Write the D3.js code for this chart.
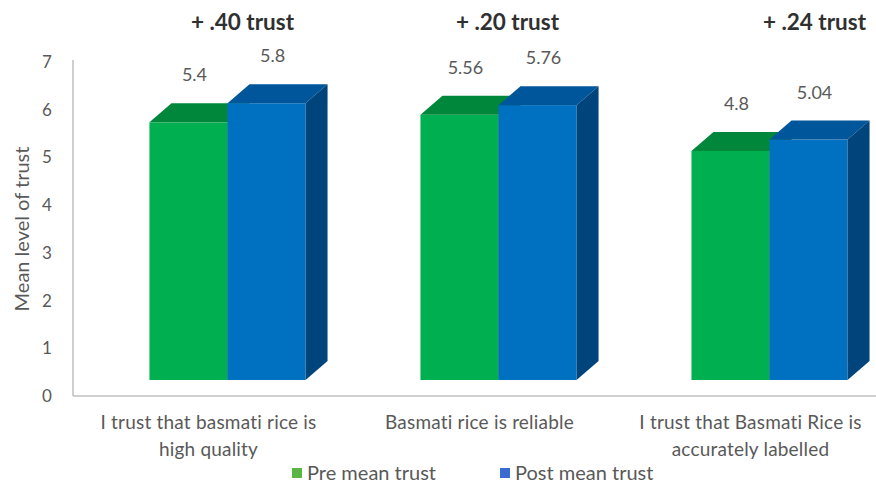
<!DOCTYPE html>
<html>
<head>
<meta charset="utf-8">
<script src="https://cdn.jsdelivr.net/npm/d3@7"></script>
<style>
  html, body { margin: 0; padding: 0; background: #ffffff; }
  svg { display: block; font-family: Lato, "Open Sans", sans-serif; }
</style>
</head>
<body>
<svg id="chart" width="876" height="487"></svg>
<script>
// ---- data ----
const categories = [
  ["I trust that basmati rice is", "high quality"],
  ["Basmati rice is reliable"],
  ["I trust that Basmati Rice is", "accurately labelled"]
];
const seriesNames = ["Pre mean trust", "Post mean trust"];
const preMean = [5.4, 5.56, 4.8];
const postMean = [5.8, 5.76, 5.04];
const valueLabels = [["5.4", "5.8"], ["5.56", "5.76"], ["4.8", "5.04"]];
const changeLabels = ["+ .40 trust", "+ .20 trust", "+ .24 trust"];
const yTicks = [0, 1, 2, 3, 4, 5, 6, 7];
const yTitle = "Mean level of trust";

// ---- layout ----
const svg = d3.select("#chart");
const W = 876, H = 487;
const axisLeft = 73;
const depthX = 22, depthY = -19, floorLift = 16;

const catIdx = categories.map((c, i) => i);
const y = d3.scaleLinear().domain([0, 7]).range([396, 62]);
const x0 = d3.scaleBand().domain(catIdx).range([92, 905]).paddingInner(0.424).paddingOuter(0.212);
const x1 = d3.scaleBand().domain([0, 1]).range([0, x0.bandwidth()]);

const colors = [
  { front: "#00B050", top: "#00873C", side: "#006B30" },
  { front: "#0070C0", top: "#00569A", side: "#00447C" }
];
const legendColors = ["#5BB544", "#3A6BD0"];

// axes lines
svg.append("line").attr("x1", axisLeft).attr("x2", axisLeft)
  .attr("y1", y(7) - 2).attr("y2", y(0))
  .attr("stroke", "#BFBFBF").attr("stroke-width", 1.5);
svg.append("line").attr("x1", axisLeft).attr("x2", W)
  .attr("y1", y(0)).attr("y2", y(0))
  .attr("stroke", "#BFBFBF").attr("stroke-width", 1.5);

// y tick labels
svg.append("g").selectAll("text").data(yTicks).join("text")
  .attr("x", 47).attr("y", d => y(d)).attr("dy", "0.35em")
  .attr("text-anchor", "middle")
  .attr("font-size", 17).attr("fill", "#595959")
  .text(d => d);

// y title
svg.append("text")
  .attr("transform", `translate(22, ${(y(0) + y(7)) / 2}) rotate(-90)`)
  .attr("text-anchor", "middle").attr("dy", "0.35em")
  .attr("font-size", 20).attr("fill", "#595959")
  .text(yTitle);

// bars
const changeNudge = [15, 9, 45];
const data = catIdx.map(i => [preMean[i], postMean[i]]);
data.forEach((vals, ci) => {
  const g = svg.append("g");
  vals.forEach((v, si) => {
    const xl = x0(ci) + x1(si);
    const xr = xl + x1.bandwidth();
    const yt = y(v) - floorLift;
    const yb = y(0) - floorLift;
    const c = colors[si];
    g.append("rect").attr("x", xl).attr("y", yt)
      .attr("width", x1.bandwidth()).attr("height", yb - yt)
      .attr("fill", c.front);
    g.append("path").attr("d",
      `M${xl},${yt} L${xr},${yt} L${xr + depthX},${yt + depthY} L${xl + depthX},${yt + depthY} Z`)
      .attr("fill", c.top);
    g.append("path").attr("d",
      `M${xr},${yt} L${xr + depthX},${yt + depthY} L${xr + depthX},${yb + depthY} L${xr},${yb} Z`)
      .attr("fill", c.side);
    // value label
    g.append("text")
      .attr("x", xl + x1.bandwidth() / 2 + 6)
      .attr("y", yt + depthY - 22)
      .attr("text-anchor", "middle")
      .attr("font-size", 18).attr("fill", "#595959")
      .text(valueLabels[ci][si]);
  });
  // change annotation
  svg.append("text")
    .attr("x", x0(ci) + x0.bandwidth() / 2 + changeNudge[ci])
    .attr("y", 30)
    .attr("text-anchor", "middle")
    .attr("font-size", 22.5).attr("font-weight", 700).attr("fill", "#303030")
    .text(changeLabels[ci]);
});

// category labels
const labelNudge = -19;
catIdx.forEach(ci => {
  const t = svg.append("text")
    .attr("text-anchor", "middle")
    .attr("font-size", 19).attr("letter-spacing", 0.2).attr("fill", "#595959");
  categories[ci].forEach((line, li) => {
    t.append("tspan")
      .attr("x", x0(ci) + x0.bandwidth() / 2 + labelNudge)
      .attr("y", 429 + li * 27)
      .text(line);
  });
});

// legend
const legendX = [292, 500];
seriesNames.forEach((name, i) => {
  svg.append("rect").attr("x", legendX[i]).attr("y", 468)
    .attr("width", 10).attr("height", 10).attr("fill", legendColors[i]);
  svg.append("text").attr("x", legendX[i] + 15).attr("y", 473)
    .attr("dy", "0.35em").attr("font-size", 20).attr("fill", "#595959")
    .text(name);
});
</script>
</body>
</html>
